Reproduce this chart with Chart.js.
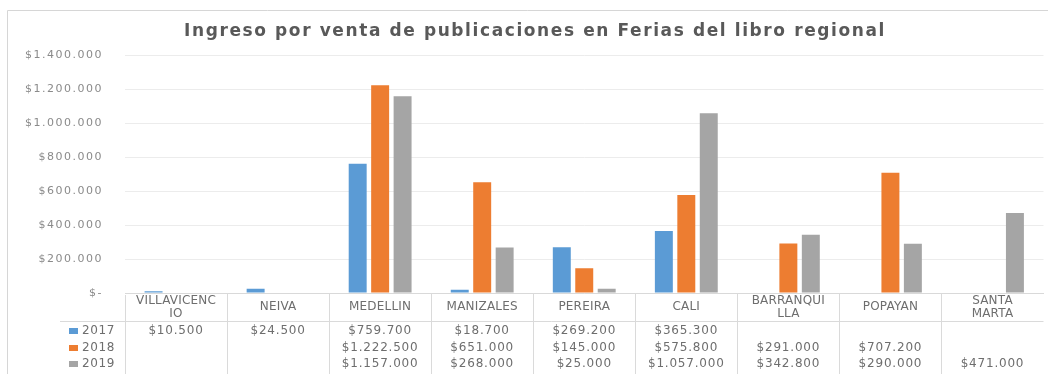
<!DOCTYPE html>
<html>
<head>
<meta charset="utf-8">
<script src="https://cdn.jsdelivr.net/npm/chart.js@4.4.0/dist/chart.umd.min.js"></script>
<style>
  html, body { margin: 0; padding: 0; background: #fff; }
  #wrap { width: 1048px; height: 374px; position: relative; }
</style>
</head>
<body>
<div id="wrap"><canvas id="ferias" width="1048" height="374"></canvas></div>
<script>
// Ingresos por feria y por año
const titulo = 'Ingreso por venta de publicaciones en Ferias del libro regional';
const ciudades = [['VILLAVICENC', 'IO'], 'NEIVA', 'MEDELLIN', 'MANIZALES', 'PEREIRA', 'CALI', ['BARRANQUI', 'LLA'], 'POPAYAN', ['SANTA', 'MARTA']];
const anios = ['2017', '2018', '2019'];
const ventas2017 = [10500, 24500, 759700, 18700, 269200, 365300, null, null, null];
const ventas2018 = [null, null, 1222500, 651000, 145000, 575800, 291000, 707200, null];
const ventas2019 = [null, null, 1157000, 268000, 25000, 1057000, 342800, 290000, 471000];
const colores = ['#5b9bd5', '#ed7d31', '#a5a5a5'];
const maxY = 1400000;
const pasoY = 200000;

function pesos(v) {
    if (v === 0) return '$-';
    return '$' + String(v).replace(/\B(?=(\d{3})+(?!\d))/g, '.');
}

const fuente = '"DejaVu Sans", sans-serif';

// marco, título, tabla de datos y leyenda debajo del eje
const tablaDatos = {
    id: 'tablaDatos',
    beforeDraw(chart) {
        const c = chart.ctx;
        c.save();
        c.strokeStyle = '#d6d6d6';
        c.lineWidth = 1;
        c.beginPath();
        c.moveTo(7.5, 374);
        c.lineTo(7.5, 10.5);
        c.lineTo(1048, 10.5);
        c.stroke();

        c.font = 'bold 17px ' + fuente;
        c.letterSpacing = '1.6px';
        c.fillStyle = '#595959';
        c.textAlign = 'center';
        c.textBaseline = 'alphabetic';
        c.fillText(titulo, 535, 36);
        c.restore();
        // las etiquetas del eje Y van algo espaciadas
        c.letterSpacing = '1.5px';
    },
    beforeDatasetsDraw(chart) {
        chart.ctx.letterSpacing = '0px';
    },
    afterDraw(chart) {
        const c = chart.ctx;
        const x = chart.scales.x;
        const area = chart.chartArea;
        const ancho = x.width / ciudades.length;
        const series = [ventas2017, ventas2018, ventas2019];
        const filasY = [331, 348, 364];
        c.save();
        c.strokeStyle = '#dadada';
        c.lineWidth = 1;
        c.beginPath();
        c.moveTo(60, 321.5);
        c.lineTo(area.right, 321.5);
        c.moveTo(Math.round(area.left) + 0.5, 295);
        c.lineTo(Math.round(area.left) + 0.5, 374);
        for (let i = 1; i < ciudades.length; i++) {
            const px = Math.round(area.left + i * ancho) + 0.5;
            c.moveTo(px, area.bottom);
            c.lineTo(px, 374);
        }
        c.stroke();

        c.font = '12px ' + fuente;
        c.fillStyle = '#6e6e6e';
        c.textAlign = 'center';
        c.textBaseline = 'middle';
        ciudades.forEach((nombre, i) => {
            const cx = x.getPixelForValue(i);
            c.letterSpacing = '0.2px';
            if (Array.isArray(nombre)) {
                c.fillText(nombre[0], cx, 301);
                c.fillText(nombre[1], cx, 314);
            } else {
                c.fillText(nombre, cx, 307);
            }
            c.letterSpacing = '0.8px';
            series.forEach((serie, s) => {
                if (serie[i] !== null) c.fillText(pesos(serie[i]), cx, filasY[s]);
            });
        });

        c.textAlign = 'left';
        c.letterSpacing = '0.6px';
        anios.forEach((anio, s) => {
            c.fillStyle = colores[s];
            c.fillRect(69, filasY[s] - 3, 9, 6);
            c.fillStyle = '#6e6e6e';
            c.fillText(anio, 82, filasY[s]);
        });
        c.restore();
    }
};

const ctx = document.getElementById('ferias').getContext('2d');

const graficoFerias = new Chart(ctx, {
    type: 'bar',
    data: {
        labels: ciudades,
        datasets: anios.map((anio, s) => ({
            label: anio,
            data: [ventas2017, ventas2018, ventas2019][s],
            backgroundColor: colores[s],
            categoryPercentage: 0.66,
            barPercentage: 0.8
        }))
    },
    options: {
        responsive: false,
        animation: false,
        devicePixelRatio: 1,
        layout: { padding: { top: 55, right: 4.5, bottom: 81, left: 0 } },
        plugins: {
            legend: { display: false },
            tooltip: { enabled: false },
            title: { display: false }
        },
        scales: {
            x: {
                afterFit(scale) { scale.height = 0; },
                ticks: { display: false },
                grid: { display: false },
                border: { display: true, color: '#d9d9d9' }
            },
            y: {
                min: 0,
                max: maxY,
                afterFit(scale) { scale.width = 125; },
                ticks: {
                    stepSize: pasoY,
                    padding: 22,
                    color: '#8a8a8a',
                    font: { family: fuente, size: 11 },
                    callback: (v) => pesos(v)
                },
                grid: { color: '#ececec', drawTicks: false },
                border: { display: false }
            }
        }
    },
    plugins: [tablaDatos]
});
</script>
</body>
</html>
